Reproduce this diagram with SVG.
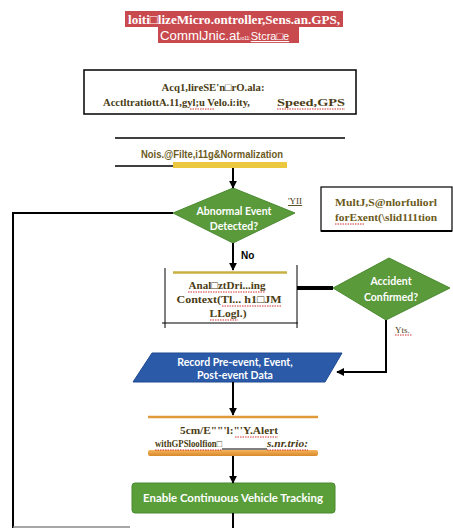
<svg xmlns="http://www.w3.org/2000/svg" width="453" height="528" viewBox="0 0 453 528">
<style>
.ser{font-family:"Liberation Serif","Times New Roman",serif;font-weight:bold;fill:#4a3c14}
.ol{fill:#6b5a20}
.wt{font-family:Lato,"Open Sans",sans-serif;font-weight:bold;fill:#ffffff}
.ln{stroke:#000;stroke-width:2;fill:none}
.sq{stroke:#d03030;stroke-width:1;stroke-dasharray:1.5 1;fill:none}
</style>
<defs>
<marker id="ah" viewBox="0 0 10 10" refX="9" refY="5" markerWidth="4" markerHeight="4" orient="auto" markerUnits="strokeWidth">
<path d="M0,0 L10,5 L0,10 z" fill="#000"/>
</marker>
<linearGradient id="og" x1="0" y1="0" x2="0" y2="1">
<stop offset="0" stop-color="#f6b45a"/><stop offset="1" stop-color="#d8892c"/>
</linearGradient>
</defs>
<rect width="453" height="528" fill="#fff"/>

<g id="title">
<rect x="125" y="11" width="218" height="16" fill="#c94a4e"/>
<rect x="158" y="27" width="141" height="16" fill="#c94a4e"/>
<text x="234" y="24" text-anchor="middle" font-family="Liberation Serif,serif" font-weight="bold" font-size="13" fill="#fff" textLength="212" lengthAdjust="spacingAndGlyphs">loiti□lizeMicro.ontroller,Sens.an.GPS,</text>
<text x="160" y="40" font-family="Liberation Sans,Arial,sans-serif" font-size="12" fill="#fff"><tspan textLength="80" lengthAdjust="spacingAndGlyphs">CommlJnic.at</tspan><tspan font-size="5">ıo11:</tspan><tspan font-size="11" text-decoration="underline">Stcra□e</tspan></text>
</g>

<g id="acquire">
<rect x="84" y="70" width="272" height="44" fill="#fff" stroke="#000" stroke-width="1.5"/>
<text class="ser" x="213" y="91" text-anchor="middle" font-size="11" textLength="103" lengthAdjust="spacingAndGlyphs">Acq1,lireSE'n□rO.ala:</text>
<text class="ser" x="103" y="106" font-size="11" textLength="147" lengthAdjust="spacingAndGlyphs">AcctltratiottA.11,gyl;u Velo.i:ity,</text>
<text class="ser" x="277" y="106" font-size="11" textLength="68" lengthAdjust="spacingAndGlyphs" fill="#6b2a14">Speed,GPS</text>
<path class="sq" d="M277,109 H345 M190,109 H215"/>
</g>

<g id="noise">
<line x1="115" y1="138" x2="345" y2="138" stroke="#000" stroke-width="1.5"/>
<line x1="115" y1="166" x2="173" y2="166" stroke="#000" stroke-width="1.5"/>
<rect x="173" y="162" width="114" height="6" fill="#ecc840"/>
<text x="141" y="158" font-family="Liberation Sans,Arial,sans-serif" font-weight="bold" font-size="10" fill="#6b5a1c" textLength="142" lengthAdjust="spacingAndGlyphs">Nois.@Filte,i11g&amp;Normalization</text>
</g>

<g id="abnormal">
<polygon points="173,213 233,188 295,213 233,243" fill="#5a9a3a" stroke="#4a8a30"/>
<text class="wt" x="234" y="215" text-anchor="middle" font-size="10.5">Abnormal Event</text>
<text class="wt" x="234" y="230" text-anchor="middle" font-size="10.5">Detected?</text>
</g>

<g id="multisensor">
<rect x="321" y="187" width="131" height="44" fill="#fff" stroke="#000" stroke-width="1.2"/>
<line x1="321" y1="231" x2="452" y2="231" stroke="#000" stroke-width="2"/>
<text class="ser ol" x="335" y="206" font-size="10.5" textLength="102" lengthAdjust="spacingAndGlyphs">MultJ,S@nlorfuliorl</text>
<text class="ser ol" x="335" y="221" font-size="10" textLength="102" lengthAdjust="spacingAndGlyphs">forExent(\slid111tion</text>
<path class="sq" d="M335,224 H365"/>
</g>

<g id="analyze">
<line x1="165" y1="268" x2="165" y2="328" stroke="#000" stroke-width="1"/>
<line x1="297" y1="265" x2="297" y2="328" stroke="#000" stroke-width="1"/>
<line x1="162" y1="323" x2="298" y2="323" stroke="#000" stroke-width="1.2"/>
<line x1="173" y1="272.5" x2="287" y2="272.5" stroke="#c8b040" stroke-width="2.5"/>
<text class="ser" x="227" y="289" text-anchor="middle" font-size="10.5" fill="#6b2a14" textLength="77" lengthAdjust="spacingAndGlyphs">Anal□ztDri...ing</text>
<text class="ser" x="229" y="303" text-anchor="middle" font-size="10.5" textLength="105" lengthAdjust="spacingAndGlyphs">Context(Tl... h1□JM</text>
<text class="ser" x="228" y="317" text-anchor="middle" font-size="10.5" textLength="37" lengthAdjust="spacingAndGlyphs">LLogl.)</text>
<path class="sq" d="M188,292 H265 M222,306 H282 M210,320 H238"/>
</g>

<g id="accident">
<polygon points="333,288 389,258 450,288 386,320" fill="#5a9a3a" stroke="#4a8a30"/>
<text class="wt" x="391" y="285" text-anchor="middle" font-size="10.5">Accident</text>
<text class="wt" x="391" y="301" text-anchor="middle" font-size="10.5">Confirmed?</text>
</g>

<g id="record">
<polygon points="152,353 342,353 325,382 133,382" fill="#2a5aa8" stroke="#1e4890"/>
<text class="wt" x="235" y="366" text-anchor="middle" font-size="10.5">Record Pre-event, Event,</text>
<text class="wt" x="235" y="379" text-anchor="middle" font-size="10.5">Post-event Data</text>
</g>

<g id="alert">
<line x1="148" y1="417" x2="318" y2="417" stroke="#e09a3a" stroke-width="2.5"/>
<rect x="148" y="450" width="170" height="6" rx="2" fill="url(#og)"/>
<text class="ser" x="229" y="434" text-anchor="middle" font-size="11" textLength="98" lengthAdjust="spacingAndGlyphs">5cm/E""'l:"'Y.Alert</text>
<text class="ser" x="155" y="447" font-size="9.5" fill="#6b2a14" textLength="67" lengthAdjust="spacingAndGlyphs">withGPSloolfion□</text>
<text class="ser" x="267" y="447" font-size="9.5" font-style="italic" fill="#6b2a14" textLength="41" lengthAdjust="spacingAndGlyphs">s.nr.trio:</text>
<line x1="222" y1="449" x2="267" y2="449" stroke="#000" stroke-width="1"/>
<path class="sq" d="M155,450 H222 M267,450 H308 M235,437 H278"/>
</g>

<g id="tracking">
<rect x="132" y="483" width="203" height="30" rx="3" fill="#5a9e3a" stroke="#4a8a2e"/>
<text class="wt" x="233" y="502" text-anchor="middle" font-size="10.5" textLength="180" lengthAdjust="spacingAndGlyphs">Enable Continuous Vehicle Tracking</text>
</g>

<g id="labels">
<text x="288" y="204" font-family="Liberation Serif,serif" font-size="9" fill="#4a3c14" text-decoration="underline">'YII</text>
<text x="241" y="259" font-family="Liberation Sans,Arial,sans-serif" font-weight="bold" font-size="10" fill="#000">No</text>
<text x="395" y="333" font-family="Liberation Serif,serif" font-size="9" fill="#4a3c14">Yts.</text>
<path class="sq" d="M395,335 H412"/>
</g>

<g id="connectors">
<line class="ln" x1="233" y1="168" x2="233" y2="188" marker-end="url(#ah)"/>
<polyline class="ln" points="173,213 13,213 13,528"/>
<line class="ln" x1="233" y1="243" x2="233" y2="270" marker-end="url(#ah)"/>
<line x1="297" y1="288" x2="333" y2="288" stroke="#000" stroke-width="4"/>
<polyline class="ln" points="386,320 386,372 337,372" marker-end="url(#ah)"/>
<line class="ln" x1="233" y1="382" x2="233" y2="415" marker-end="url(#ah)"/>
<line class="ln" x1="233" y1="456" x2="233" y2="483" marker-end="url(#ah)"/>
<line class="ln" x1="233" y1="513" x2="233" y2="528"/>
<line x1="13" y1="527" x2="130" y2="527" stroke="#888" stroke-width="1.5"/>
</g>
</svg>
